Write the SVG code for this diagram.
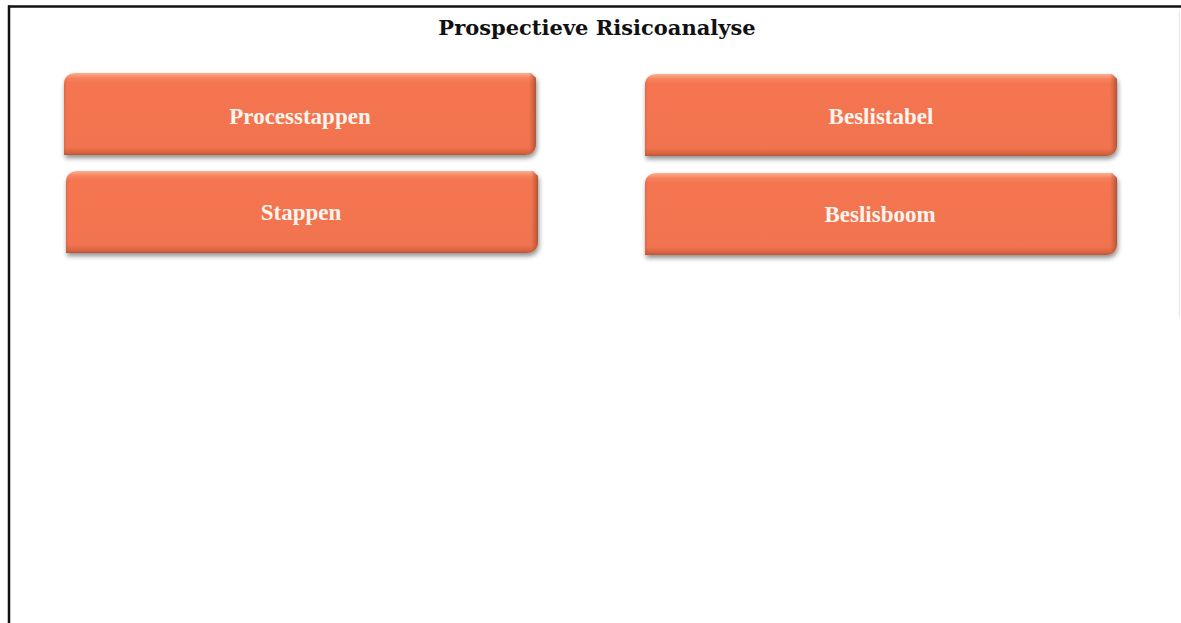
<svg xmlns="http://www.w3.org/2000/svg" width="1181" height="623" viewBox="0 0 1181 623">
<style>
.title{font-family:"DejaVu Serif","Liberation Serif",serif;font-weight:bold;font-size:21px;fill:#111111;text-anchor:middle}
.lbl{font-family:"Liberation Serif","DejaVu Serif",serif;font-weight:bold;font-size:23px;fill:#FFF4EE;text-anchor:middle}
</style>
<defs>
<linearGradient id="gv" x1="0" y1="0" x2="0" y2="1">
<stop offset="0" stop-color="#FBB090"/>
<stop offset="0.06" stop-color="#F6835E"/>
<stop offset="0.12" stop-color="#F47550"/>
<stop offset="0.9" stop-color="#F2734F"/>
<stop offset="0.97" stop-color="#D9643F"/>
<stop offset="1" stop-color="#B85535"/>
</linearGradient>
<linearGradient id="gh" x1="0" y1="0" x2="1" y2="0">
<stop offset="0" stop-color="#B85535" stop-opacity="0.35"/>
<stop offset="0.006" stop-color="#B85535" stop-opacity="0"/>
<stop offset="0.985" stop-color="#B85535" stop-opacity="0"/>
<stop offset="1" stop-color="#A04A2E" stop-opacity="0.8"/>
</linearGradient>
<filter id="sh" x="-5%" y="-20%" width="110%" height="150%">
<feGaussianBlur in="SourceAlpha" stdDeviation="2.5"/>
<feOffset dx="1" dy="3" result="b"/>
<feComponentTransfer><feFuncA type="linear" slope="0.45"/></feComponentTransfer>
<feMerge><feMergeNode/><feMergeNode in="SourceGraphic"/></feMerge>
</filter>
<path id="btn" d="M12,0 H467 L472,5 V70 Q472,82 460,82 H0 V12 Q0,0 12,0 Z"/>
</defs>
<rect width="1181" height="623" fill="#ffffff"/>
<g id="frame">
<line x1="8" y1="6.5" x2="1181" y2="6.5" stroke="#111" stroke-width="2.5"/>
<line x1="9" y1="5.5" x2="9" y2="623" stroke="#111" stroke-width="2.5"/>
<line x1="1179.5" y1="10" x2="1179.5" y2="318" stroke="#e6e6e6" stroke-width="1"/>
</g>
<text class="title" x="597" y="35">Prospectieve Risicoanalyse</text>
<g id="connectors"></g>
<g id="processtappen" transform="translate(64,73)">
<g filter="url(#sh)"><use href="#btn" fill="url(#gv)"/></g>
<use href="#btn" fill="url(#gh)"/>
<text class="lbl" x="236" y="51">Processtappen</text>
</g>
<g id="stappen" transform="translate(66,171)">
<g filter="url(#sh)"><use href="#btn" fill="url(#gv)"/></g>
<use href="#btn" fill="url(#gh)"/>
<text class="lbl" x="235" y="49">Stappen</text>
</g>
<g id="beslistabel" transform="translate(645,74)">
<g filter="url(#sh)"><use href="#btn" fill="url(#gv)"/></g>
<use href="#btn" fill="url(#gh)"/>
<text class="lbl" x="236" y="50">Beslistabel</text>
</g>
<g id="beslisboom" transform="translate(645,173)">
<g filter="url(#sh)"><use href="#btn" fill="url(#gv)"/></g>
<use href="#btn" fill="url(#gh)"/>
<text class="lbl" x="235" y="49">Beslisboom</text>
</g>
</svg>
